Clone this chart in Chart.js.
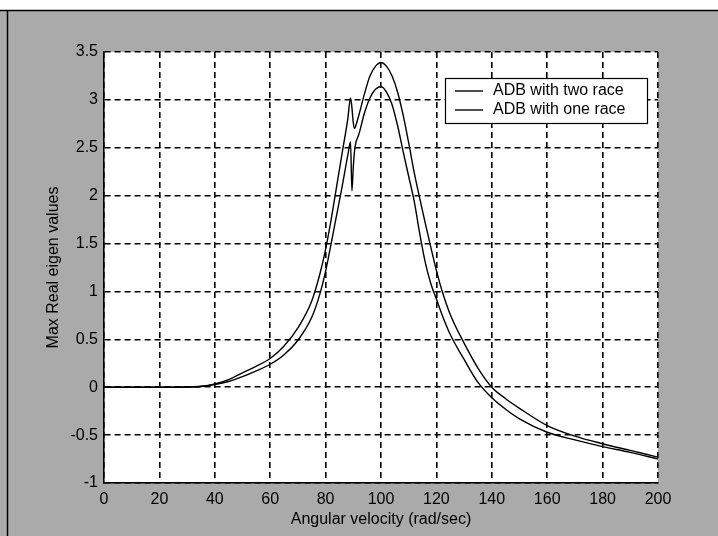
<!DOCTYPE html>
<html>
<head>
<meta charset="utf-8">
<script src="https://cdn.jsdelivr.net/npm/chart.js@4/dist/chart.umd.min.js"></script>
<style>
  html, body { margin: 0; padding: 0; background: #aaaaaa; }
  canvas { display: block; }
</style>
</head>
<body>
<canvas id="chart" width="718" height="536"></canvas>
<script>
// Angular velocity samples (rad/sec)
const velocity = [0, 10, 20, 30, 35, 40, 45, 50, 55, 60, 65, 70, 75, 78, 80, 82, 84, 86, 88, 89, 89.5, 90, 90.5, 91, 92, 94, 96, 98, 100, 102, 104, 106, 108, 110, 112, 114, 116, 118, 120, 122, 125, 130, 135, 140, 145, 150, 160, 170, 180, 190, 200];

// Max real eigenvalue, ADB with two race
const twoRace = [0, 0, 0, 0.003, 0.01, 0.035, 0.08, 0.15, 0.22, 0.30, 0.43, 0.62, 0.9, 1.19, 1.44, 1.75, 2.1, 2.45, 2.8, 3.02, 2.92, 2.76, 2.7, 2.74, 2.84, 3.06, 3.25, 3.35, 3.39, 3.35, 3.25, 3.08, 2.84, 2.55, 2.24, 1.97, 1.71, 1.46, 1.22, 1.01, 0.76, 0.46, 0.2, 0.0, -0.12, -0.22, -0.40, -0.51, -0.59, -0.66, -0.73];

// Max real eigenvalue, ADB with one race
const oneRace = [0, 0, 0, 0.002, 0.008, 0.028, 0.06, 0.11, 0.17, 0.24, 0.34, 0.49, 0.73, 0.98, 1.21, 1.5, 1.8, 2.1, 2.42, 2.56, 2.05, 2.3, 2.48, 2.56, 2.64, 2.86, 3.02, 3.11, 3.14, 3.08, 2.95, 2.73, 2.46, 2.2, 1.94, 1.6, 1.3, 1.08, 0.92, 0.76, 0.55, 0.29, 0.05, -0.11, -0.23, -0.33, -0.47, -0.55, -0.62, -0.68, -0.75];

const seriesNames = ['ADB with two race', 'ADB with one race'];
const xTickLabels = ['0', '20', '40', '60', '80', '100', '120', '140', '160', '180', '200'];
const yTickLabels = ['-1', '-0.5', '0', '0.5', '1', '1.5', '2', '2.5', '3', '3.5'];

const FONT = { family: "'Liberation Sans', Arial, sans-serif", size: 16 };

const pairs = (xs, ys) => xs.map((x, i) => ({ x: x, y: ys[i] }));

// Grey figure background, frame lines and white axes area
const backdrop = {
  id: 'backdrop',
  beforeDraw(chart) {
    const { ctx, width, height, chartArea: a } = chart;
    ctx.save();
    ctx.fillStyle = '#aaaaaa';
    ctx.fillRect(0, 0, width, height);
    ctx.fillStyle = '#ffffff';
    ctx.fillRect(0, 0, width, 10);
    ctx.strokeStyle = '#000';
    ctx.lineWidth = 1.5;
    ctx.beginPath();
    ctx.moveTo(0, 10.5); ctx.lineTo(width, 10.5);
    ctx.moveTo(7.5, 10); ctx.lineTo(7.5, height);
    ctx.stroke();
    ctx.fillStyle = '#ffffff';
    ctx.fillRect(a.left, a.top, a.right - a.left, a.bottom - a.top);
    ctx.restore();
  }
};

// Boxed legend in the upper right of the axes
const boxLegend = {
  id: 'boxLegend',
  afterDatasetsDraw(chart) {
    const { ctx, chartArea: a } = chart;
    const w = 202, h = 45;
    const x0 = a.right - 11 - w, y0 = a.top + 26;
    ctx.save();
    ctx.fillStyle = '#ffffff';
    ctx.fillRect(x0, y0, w, h);
    ctx.strokeStyle = '#000';
    ctx.lineWidth = 1.2;
    ctx.strokeRect(x0 + 0.5, y0 + 0.5, w, h);
    ctx.font = FONT.size + 'px ' + FONT.family;
    ctx.textBaseline = 'middle';
    ctx.fillStyle = '#000';
    chart.data.datasets.forEach((ds, i) => {
      const y = y0 + 13 + i * 19;
      ctx.strokeStyle = ds.borderColor;
      ctx.lineWidth = ds.borderWidth;
      ctx.beginPath();
      ctx.moveTo(x0 + 10, y); ctx.lineTo(x0 + 38, y);
      ctx.stroke();
      ctx.fillText(ds.label, x0 + 48, y);
    });
    ctx.restore();
  }
};

new Chart(document.getElementById('chart'), {
  type: 'line',
  data: {
    datasets: [
      { label: seriesNames[0], data: pairs(velocity, twoRace), borderColor: '#000', borderWidth: 1.4, pointRadius: 0, fill: false, cubicInterpolationMode: 'monotone' },
      { label: seriesNames[1], data: pairs(velocity, oneRace), borderColor: '#000', borderWidth: 1.4, pointRadius: 0, fill: false, cubicInterpolationMode: 'monotone' }
    ]
  },
  options: {
    responsive: false,
    animation: false,
    devicePixelRatio: 1,
    layout: { padding: { left: 0, top: 52, right: 60, bottom: 0 } },
    plugins: { legend: { display: false }, tooltip: { enabled: false } },
    scales: {
      x: {
        type: 'linear', min: 0, max: 200,
        afterFit(scale) { scale.height = 53; },
        ticks: {
          stepSize: 20, color: '#000', font: FONT, padding: 7, maxRotation: 0,
          callback: (v) => xTickLabels[Math.round(v / 20)]
        },
        grid: { color: '#000', lineWidth: 1.6, drawTicks: false },
        border: { display: true, color: '#000', width: 1.6, dash: [6, 4] },
        title: { display: true, text: 'Angular velocity (rad/sec)', color: '#000', font: FONT, padding: { top: 0, bottom: 7 } }
      },
      y: {
        type: 'linear', min: -1, max: 3.5,
        afterFit(scale) { scale.width = 104; },
        ticks: {
          stepSize: 0.5, color: '#000', font: FONT, padding: 6,
          callback: (v) => yTickLabels[Math.round((v + 1) / 0.5)]
        },
        grid: { color: '#000', lineWidth: 1.6, drawTicks: false },
        border: { display: true, color: '#000', width: 1.6, dash: [6, 4] },
        title: { display: true, text: 'Max Real eigen values', color: '#000', font: FONT, padding: { top: 44, bottom: 0 } }
      }
    }
  },
  plugins: [backdrop, boxLegend]
});
</script>
</body>
</html>
